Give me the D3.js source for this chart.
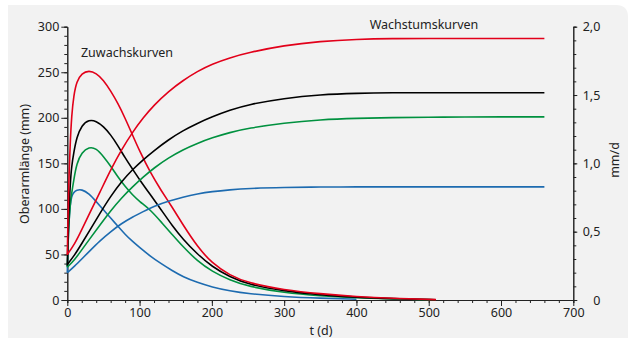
<!DOCTYPE html>
<html>
<head>
<meta charset="utf-8">
<script src="https://cdn.jsdelivr.net/npm/d3@7"></script>
<style>
  body { margin: 0; background: #fff; }
  svg { display: block; font-family: "Noto Sans", sans-serif; }
</style>
</head>
<body>
<svg id="chart" width="631" height="340"></svg>
<script>
// Wachstumskurven (mm)
const tGrowth = [0, 10, 20, 30, 45, 60, 75, 90, 105, 120, 140, 160, 180, 200, 225, 250, 300, 350, 400, 450, 500, 550, 600, 660];
const growthRed = [50, 61, 77, 94, 118, 143, 165, 184, 200, 214, 229, 241, 251, 259, 266, 271.5, 279.5, 284, 286.2, 287, 287, 287, 287, 287];
const growthBlack = [39, 49, 62, 75, 95, 114, 130, 143, 154, 164, 176, 186, 194, 201, 208.5, 214.5, 221.5, 225.5, 227, 227.5, 227.5, 227.5, 227.5, 227.5];
const growthGreen = [36, 44, 55, 66, 82, 98, 112, 124, 135, 145, 156, 165, 172, 178, 184, 188.5, 194.5, 198, 199.5, 200.2, 200.6, 201, 201, 201];
const growthBlue = [30, 37, 45, 53, 65, 75, 84, 91, 97, 103, 108.5, 113, 116.5, 119, 121, 122.5, 123.6, 124, 124.2, 124.2, 124.2, 124.2, 124.2, 124.2];

// Zuwachskurven (mm/d)
const tIncr = [0, 1, 2, 4, 6, 9, 13, 20, 30, 40, 50, 60, 70, 80, 90, 100, 115, 130, 145, 160, 180, 200, 225, 250, 300, 350, 400, 450, 510];
const incrRed = [0.33, 0.6, 0.85, 1.15, 1.35, 1.5, 1.6, 1.66, 1.68, 1.66, 1.61, 1.53, 1.44, 1.33, 1.21, 1.09, 0.93, 0.8, 0.68, 0.55, 0.39, 0.27, 0.18, 0.125, 0.073, 0.045, 0.025, 0.012, 0.003];
const incrBlack = [0.25, 0.45, 0.62, 0.85, 0.98, 1.08, 1.19, 1.28, 1.32, 1.31, 1.27, 1.21, 1.13, 1.04, 0.96, 0.88, 0.77, 0.66, 0.545, 0.445, 0.335, 0.245, 0.168, 0.115, 0.065, 0.038, 0.02, 0.01, 0.002];
const incrGreen = [0.24, 0.4, 0.55, 0.7, 0.78, 0.88, 1.0, 1.08, 1.12, 1.11, 1.05, 0.98, 0.9, 0.83, 0.77, 0.72, 0.66, 0.57, 0.48, 0.39, 0.285, 0.21, 0.145, 0.1, 0.052, 0.03, 0.017, 0.008, 0.002];
const incrBlue = [0.2, 0.4, 0.55, 0.7, 0.76, 0.79, 0.805, 0.81, 0.78, 0.72, 0.66, 0.6, 0.54, 0.48, 0.43, 0.385, 0.32, 0.265, 0.215, 0.17, 0.128, 0.095, 0.066, 0.046, 0.024, 0.013, 0.006, null, null];

// right axis tick labels
const rightTicks = [0, 0.5, 1, 1.5, 2];
const rightTickLabels = ['0', '0,5', '1,0', '1,5', '2,0'];

const colors = { red: '#e2001a', black: '#000000', green: '#00913f', blue: '#1d6bb0' };

const svg = d3.select('#chart');

// grey panel with the rounded upper right corner
const px0 = 8, py0 = 5, px1 = 628, py1 = 338, r = 12;
svg.append('path')
    .attr('d', `M${px0},${py0}H${px1 - r}Q${px1},${py0} ${px1},${py0 + r}V${py1}H${px0}Z`)
    .attr('fill', '#f2f2f2');

// scales
const x = d3.scaleLinear().domain([0, 700]).range([67.3, 573.3]);
const yL = d3.scaleLinear().domain([0, 300]).range([300, 26.7]);
const yR = d3.scaleLinear().domain([0, 2]).range([300, 26.7]);

const axisColor = '#222';
const styleAxis = (g) => {
    g.selectAll('path, line').attr('stroke', axisColor).attr('stroke-width', 1);
    g.selectAll('text').attr('fill', '#222').style('font-size', '12.5px').style('font-family', '"Noto Sans", sans-serif');
};

// minor ticks
svg.append('g').attr('transform', `translate(${x(0)},0)`)
    .call(d3.axisLeft(yL).tickValues(d3.range(0, 301, 10)).tickSize(3).tickFormat(''))
    .call(styleAxis);
svg.append('g').attr('transform', `translate(0,${yL(0)})`)
    .call(d3.axisBottom(x).tickValues(d3.range(0, 701, 20)).tickSize(3).tickFormat(''))
    .call(styleAxis);
svg.append('g').attr('transform', `translate(${x(700)},0)`)
    .call(d3.axisRight(yR).tickValues(d3.range(0, 2.001, 0.1)).tickSize(3).tickFormat(''))
    .call(styleAxis);

// major ticks
svg.append('g').attr('transform', `translate(${x(0)},0)`)
    .call(d3.axisLeft(yL).tickValues(d3.range(0, 301, 50)).tickSize(6).tickPadding(2).tickSizeOuter(0))
    .call(styleAxis);
svg.append('g').attr('transform', `translate(0,${yL(0)})`)
    .call(d3.axisBottom(x).tickValues(d3.range(0, 701, 100)).tickSize(6).tickPadding(2).tickSizeOuter(0))
    .call(styleAxis);
const rightAxis = svg.append('g').attr('transform', `translate(${x(700)},0)`)
    .call(d3.axisRight(yR).tickValues(rightTicks).tickSize(4).tickSizeOuter(0)
        .tickFormat((d, i) => rightTickLabels[i]))
    .call(styleAxis);
// labels are right-aligned in the reference
rightAxis.selectAll('text').attr('text-anchor', 'end').attr('x', 27);

// curves
const growthLine = d3.line()
    .x(d => x(d[0]))
    .y(d => yL(d[1]))
    .curve(d3.curveBasis);
const incrLine = d3.line()
    .defined(d => d[1] !== null)
    .x(d => x(d[0]))
    .y(d => yR(d[1]))
    .curve(d3.curveBasis);

const plot = svg.append('g').attr('fill', 'none').attr('stroke-width', 1.6);

const incrSeries = [
    [incrBlue, colors.blue], [incrGreen, colors.green], [incrBlack, colors.black], [incrRed, colors.red]
];
incrSeries.forEach(([vals, col]) => {
    plot.append('path')
        .attr('d', incrLine(tIncr.map((t, i) => [t, vals[i]])))
        .attr('stroke', col);
});

const growthSeries = [
    [growthBlue, colors.blue], [growthGreen, colors.green], [growthBlack, colors.black], [growthRed, colors.red]
];
growthSeries.forEach(([vals, col]) => {
    plot.append('path')
        .attr('d', growthLine(tGrowth.map((t, i) => [t, vals[i]])))
        .attr('stroke', col);
});

// labels
const label = (txt, xx, yy, rot) => {
    const t = svg.append('text')
        .attr('fill', '#222')
        .style('font-size', '12.5px')
        .attr('text-anchor', 'middle')
        .text(txt);
    if (rot) t.attr('transform', `translate(${xx},${yy}) rotate(${rot})`);
    else t.attr('x', xx).attr('y', yy);
    return t;
};
label('Oberarmlänge (mm)', 29, 164, -90);
label('t (d)', 321, 335);
label('mm/d', 619, 160, -90);
label('Zuwachskurven', 127, 57);
label('Wachstumskurven', 424, 29);
</script>
</body>
</html>
